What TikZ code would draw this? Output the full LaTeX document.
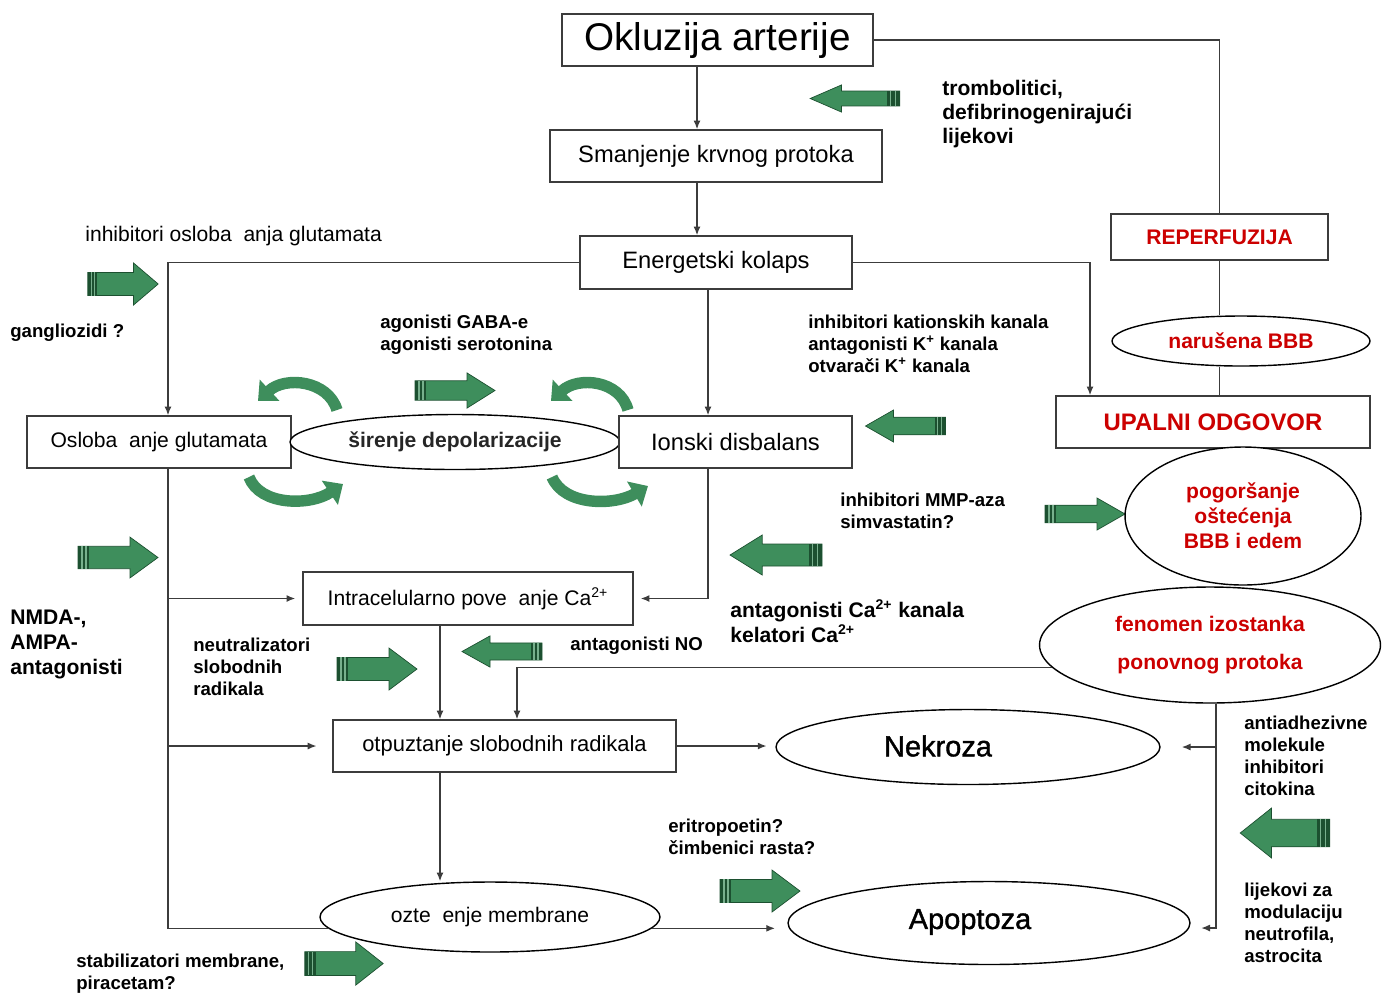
\documentclass[tikz,border=0pt]{standalone}
\usepackage{fontspec}
\setmainfont{Liberation Sans}
\newfontfamily\heavyfont[FakeBold=1.3]{Liberation Sans}
\usetikzlibrary{shapes.geometric,arrows.meta}

\definecolor{gfill}{RGB}{62,142,92}
\definecolor{gdark}{RGB}{28,80,48}
\definecolor{redtxt}{RGB}{204,0,0}
\definecolor{linec}{RGB}{60,60,60}

\tikzset{
  box/.style={draw=linec, line width=0.8pt, fill=white, inner sep=0pt, font=\fontsize{13.5}{16}\selectfont},
  oval/.style={ellipse, draw=black, line width=0.8pt, fill=white, inner sep=0pt, font=\fontsize{12}{14}\selectfont},
  conn/.style={draw=linec, line width=0.8pt},
  arr/.style={conn, -{Latex[length=5pt,width=4pt]}},
  lbl/.style={inner sep=0pt, anchor=north west, align=left, font=\bfseries\fontsize{10.6}{12.5}\selectfont},
  lblbig/.style={lbl, font=\bfseries\fontsize{12}{14.2}\selectfont},
  redlbl/.style={text=redtxt, font=\bfseries\fontsize{12}{14}\selectfont},
  bigword/.style={inner sep=0pt, font=\heavyfont\fontsize{16.5}{20}\selectfont},
  carrow/.style={draw=gfill, line width=6.5pt, -{Triangle[width=16pt,length=9pt]}},
  pics/garrow/.style={code={
    \filldraw[fill=gfill, draw=gdark, line width=0.4pt] (-40,-11) -- (12,-11) -- (12,-20) -- (40,0) -- (12,20) -- (12,11) -- (-40,11) -- cycle;
    \fill[gdark] (-40,-11) rectangle (-29,11);
    \draw[gfill!70, line width=0.6pt] (-36,-11) -- (-36,11) (-32,-11) -- (-32,11);
  }},
}

\begin{document}
\begin{tikzpicture}[x=0.02cm, y=-0.02cm]
\useasboundingbox (0,0) rectangle (1389,992);

% green therapy arrows
\pic[xscale=-1.12, yscale=0.68] at (855,98.5) {garrow};
\pic[xscale=0.88, yscale=1.05] at (123,284) {garrow};
\pic[xscale=1.0, yscale=0.88] at (455,390.5) {garrow};
\pic[xscale=-1.0, yscale=0.8] at (905.5,426) {garrow};
\pic[xscale=1.0, yscale=1.02] at (118,557.5) {garrow};
\pic[xscale=-1.15, yscale=1.0] at (776,555) {garrow};
\pic[xscale=1.0, yscale=0.8] at (1085,514) {garrow};
\pic[xscale=1.0, yscale=1.05] at (377,669) {garrow};
\pic[xscale=-1.0, yscale=0.78] at (502,651.5) {garrow};
\pic[xscale=1.0, yscale=1.05] at (760,891) {garrow};
\pic[xscale=-1.12, yscale=1.25] at (1285,833) {garrow};
\pic[xscale=0.98, yscale=1.08] at (344,963.5) {garrow};

% curved arrows round the depolarisation
\draw[carrow] (337,410) .. controls (328,380) and (285,376) .. (258,401);
\draw[carrow] (249,477) .. controls (260,506) and (310,506) .. (343,484);
\draw[carrow] (628,410) .. controls (620,380) and (578,376) .. (551,401);
\draw[carrow] (552,477) .. controls (564,506) and (614,506) .. (648,486);

% main chain
\node[box, line width=1.6pt, minimum width=6.22cm, minimum height=1.04cm, font=\fontsize{22}{26}\selectfont] (okl) at (717.5,40) {Okluzija arterije};
\node[box, minimum width=6.64cm, minimum height=1.04cm] (sman) at (716,156) {Smanjenje krvnog protoka};
\node[box, minimum width=5.44cm, minimum height=1.06cm] (ener) at (716,262.5) {Energetski kolaps};
\node[box, redlbl, minimum width=4.34cm, minimum height=0.92cm] (reper) at (1219.5,237) {REPERFUZIJA};
\node[oval, redlbl, minimum width=5.16cm, minimum height=1cm] (bbb) at (1241,341) {narušena BBB};
\node[box, redlbl, font=\bfseries\fontsize{13.6}{16}\selectfont, minimum width=6.28cm, minimum height=1.04cm] (upal) at (1213,422) {UPALNI ODGOVOR};
\node[box, font=\fontsize{12}{14}\selectfont, minimum width=5.28cm, minimum height=1.04cm] (oslob) at (159,442) {Osloba~ anje glutamata};
\node[oval, font=\bfseries\fontsize{12}{14}\selectfont, text=black!85, minimum width=6.6cm, minimum height=1.1cm] (siren) at (455,442) {širenje depolarizacije};
\node[box, minimum width=4.66cm, minimum height=1.04cm] (ionski) at (735.5,442) {Ionski disbalans};
\node[oval, redlbl, align=center, font=\bfseries\fontsize{12}{14.2}\selectfont, minimum width=4.72cm, minimum height=2.76cm] (pogor) at (1243,516) {pogoršanje\\oštećenja\\BBB i edem};
\node[oval, redlbl, align=center, font=\bfseries\fontsize{12}{21.5}\selectfont, minimum width=6.82cm, minimum height=2.32cm] (fenom) at (1210,645) {fenomen izostanka\\ponovnog protoka};
\node[box, font=\fontsize{12}{14}\selectfont, minimum width=6.6cm, minimum height=1.06cm] (intra) at (468,598.5) {Intracelularno pove~ anje Ca\textsuperscript{2+}};
\node[box, font=\fontsize{12.5}{15}\selectfont, minimum width=6.86cm, minimum height=1.04cm] (otpuz) at (504.5,746) {otpuztanje slobodnih radikala};
\node[oval, minimum width=7.68cm, minimum height=1.5cm] (nekr) at (968,747) {};
\node[bigword] (nekrtxt) at (938,746) {Nekroza};
\node[oval, minimum width=6.8cm, minimum height=1.4cm] (ozte) at (490,917) {ozte~ enje membrane};
\node[oval, minimum width=8.04cm, minimum height=1.66cm] (apop) at (989,923) {};
\node[bigword] (apoptxt) at (970,922) {Apoptoza};

% therapy labels
\node[lblbig, font=\bfseries\fontsize{12}{13.6}\selectfont] (trom) at (942,80) {trombolitici,\\defibrinogenirajući\\lijekovi};
\node[anchor=west, inner sep=0pt, font=\fontsize{12}{14}\selectfont] (inhosl) at (85,236) {inhibitori osloba~ anja glutamata};
\node[lbl, anchor=west] (gang) at (10,333) {gangliozidi ?};
\node[lbl] (agon) at (380,315) {agonisti GABA-e\\agonisti serotonina};
\node[lbl] (kation) at (808,315) {inhibitori kationskih kanala\\antagonisti K\textsuperscript{+} kanala\\otvarači K\textsuperscript{+} kanala};
\node[lbl] (mmp) at (840,493) {inhibitori MMP-aza\\simvastatin?};
\node[lblbig] (nmda) at (10,609.5) {NMDA-,\\AMPA-\\antagonisti};
\node[lblbig] (antca) at (730,599.5) {antagonisti Ca\textsuperscript{2+} kanala\\kelatori Ca\textsuperscript{2+}};
\node[lbl] (neutr) at (193,638) {neutralizatori\\slobodnih\\radikala};
\node[lbl, anchor=west] (antno) at (570,646) {antagonisti NO};
\node[lbl] (erit) at (668,819) {eritropoetin?\\čimbenici rasta?};
\node[lbl] (antiadh) at (1244,716) {antiadhezivne\\molekule\\inhibitori\\citokina};
\node[lbl] (lijek) at (1244,883) {lijekovi za\\modulaciju\\neutrofila,\\astrocita};
\node[lbl] (stab) at (76,954) {stabilizatori membrane,\\piracetam?};

% connectors
\draw[arr] ([xshift=-0.41cm]okl.south) -- ([xshift=-0.41cm]okl.south |- sman.north);
\draw[arr] ([xshift=-0.38cm]sman.south) -- ([xshift=-0.38cm]sman.south |- ener.north);
\draw[arr] (ener.west) -| ([xshift=0.18cm]oslob.north);
\draw[arr] (ener.east) -| ([xshift=-2.46cm]upal.north);
\draw[arr] ([xshift=-0.55cm]ionski.north |- ener.south) -- ([xshift=-0.55cm]ionski.north);
\draw[conn] (okl.east) -| (reper.north);
\draw[conn] (reper.south) -- (reper.south |- bbb.north);
\draw[conn] (reper.south |- bbb.south) -- (reper.south |- upal.north);
\draw[conn] ([xshift=0.18cm]oslob.south) |- (ozte.184);
\draw[arr, shorten >=4pt] ([xshift=0.18cm]oslob.south |- intra.west) -- (intra.west);
\draw[arr, shorten >=9pt] ([xshift=0.18cm]oslob.south |- otpuz.west) -- (otpuz.west);
\draw[arr, shorten >=4pt] ([xshift=-0.55cm]ionski.south) |- (intra.east);
\draw[arr] ([xshift=-0.56cm]intra.south) -- ([xshift=-0.56cm]intra.south |- otpuz.north);
\draw[arr] (fenom.188) -| ([xshift=0.25cm]otpuz.north);
\draw[arr, shorten >=6pt] ([xshift=0.12cm]fenom.south) |- ([yshift=-0.1cm]apop.east);
\draw[arr, shorten >=12pt] ([xshift=0.12cm]fenom.south |- nekr.east) -- (nekr.east);
\draw[arr, shorten >=5pt] (otpuz.east) -- (otpuz.east -| nekr.west);
\draw[arr] ([xshift=-1.29cm]otpuz.south) -- ([xshift=-1.29cm]otpuz.south |- ozte.north);
\draw[arr, shorten >=7pt] (ozte.356) -- (ozte.356 -| apop.west);
\end{tikzpicture}
\end{document}
